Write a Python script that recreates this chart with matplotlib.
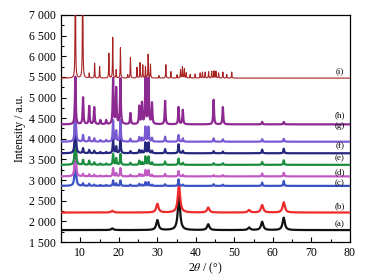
import numpy as np
import matplotlib
matplotlib.use("Agg")
import matplotlib.pyplot as plt
from matplotlib.ticker import MultipleLocator, FuncFormatter

# ---------------- data ----------------
labels = ["(a)", "(b)", "(c)", "(d)", "(e)", "(f)", "(g)", "(h)", "(i)"]
colors = ["#111111", "#ee2a2a", "#3a52c4", "#c25ac4", "#1c8c3e",
          "#26267f", "#7a5ad2", "#8c2a92", "#a82222"]
baselines = [1790, 2215, 2860, 3090, 3370, 3650, 3930, 4350, 5470]
label_y = [1935, 2370, 2935, 3180, 3530, 3810, 4300, 4580, 5630]

# spinel-type reflections (a), (b)
spinel_pos = [18.3, 30.0, 35.6, 43.2, 53.8, 57.2, 62.8]
a_h = [40, 240, 820, 140, 60, 200, 300]
b_h = [40, 210, 680, 120, 60, 180, 250]

# framework reflections (c)-(h)
mof_pos = [8.7, 10.7, 12.3, 13.6, 15.2, 16.7, 18.5, 19.3, 20.4, 23.0,
           25.3, 26.0, 26.9, 27.7, 28.6, 32.0, 35.5, 36.6, 44.6, 47.0,
           57.2, 62.8]
h_h = [1150, 650, 440, 410, 100, 100, 1100, 870, 1100, 270,
       430, 510, 1100, 1100, 510, 570, 420, 350, 600, 420,
       60, 60]
g_h = [1300, 160, 110, 80, 40, 40, 520, 260, 520, 70,
       110, 90, 360, 360, 90, 120, 160, 80, 80, 60,
       60, 70]
f_h = [1400, 120, 80, 60, 30, 30, 360, 160, 360, 50,
       80, 60, 260, 260, 60, 100, 220, 60, 50, 40,
       90, 110]
e_h = [1400, 120, 100, 60, 30, 30, 260, 160, 260, 50,
       100, 60, 200, 200, 60, 80, 150, 50, 40, 40,
       70, 110]
d_h = [1500, 60, 50, 40, 20, 20, 200, 80, 200, 40,
       60, 40, 150, 150, 40, 60, 130, 40, 30, 30,
       70, 90]
c_h = [1600, 60, 50, 30, 20, 20, 130, 60, 130, 30,
       50, 30, 90, 90, 30, 40, 160, 30, 40, 30,
       80, 120]

# simulated pattern (i)
sim_pos = [8.7, 10.6, 12.3, 13.7, 15.0, 17.4, 18.4, 19.3, 20.4, 22.3,
           23.0, 24.7, 25.5, 26.2, 26.9, 27.6, 28.2, 30.4, 32.2, 33.5,
           35.1, 36.0, 36.5, 37.0, 37.5, 38.5, 39.8, 41.1, 41.7, 42.4,
           43.3, 44.1, 44.7, 45.2, 45.9, 47.0, 48.0, 49.3]
sim_h = [4000, 4000, 120, 360, 280, 600, 990, 200, 740, 80,
         505, 260, 375, 320, 280, 580, 340, 60, 330, 160,
         80, 210, 280, 230, 130, 90, 100, 130, 150, 150,
         160, 170, 180, 170, 130, 150, 90, 150]

# ---------------- figure ----------------
plt.rcParams['font.family'] = ['Liberation Serif', 'DejaVu Serif']
plt.rcParams['mathtext.fontset'] = 'stix'

fig = plt.figure(figsize=(3.68, 2.76), dpi=100)
ax = fig.add_axes([0.166, 0.123, 0.785, 0.823])

x = np.linspace(5, 80, 3000)


def profile(pos, heights, width, base):
    y = np.full_like(x, float(base))
    for p, h in zip(pos, heights):
        y += h / (1.0 + ((x - p) / width) ** 2)
    return y


series = [
    (spinel_pos, a_h, 0.35),
    (spinel_pos, b_h, 0.35),
    (mof_pos, c_h, 0.12),
    (mof_pos, d_h, 0.12),
    (mof_pos, e_h, 0.12),
    (mof_pos, f_h, 0.12),
    (mof_pos, g_h, 0.12),
    (mof_pos, h_h, 0.12),
    (sim_pos, sim_h, 0.06),
]

for i, (pos, hh, w) in enumerate(series):
    y = profile(pos, hh, w, baselines[i])
    lw = 0.8 if i == 8 else 1.6
    ax.plot(x, y, color=colors[i], lw=lw, zorder=2 + i)
    ax.text(77.4, label_y[i], labels[i], fontsize=6.5, ha='center',
            va='center', zorder=20)

ax.set_xlim(5, 80)
ax.set_ylim(1500, 7000)
ax.xaxis.set_major_locator(MultipleLocator(10))
ax.xaxis.set_minor_locator(MultipleLocator(5))
ax.yaxis.set_major_locator(MultipleLocator(500))
ax.yaxis.set_minor_locator(MultipleLocator(250))
ax.yaxis.set_major_formatter(FuncFormatter(
    lambda v, p: f"{int(v):,}".replace(",", " ")))
ax.tick_params(which='both', direction='in', labelsize=8.5, width=0.8)
ax.tick_params(which='major', length=3.5)
ax.tick_params(which='minor', length=2)
for s in ax.spines.values():
    s.set_linewidth(0.9)

ax.set_xlabel(r"2$\theta$ / (°)", fontsize=8.5, labelpad=1)
ax.set_ylabel("Intensity / a.u.", fontsize=8.5, labelpad=2)

fig.savefig("out.png", dpi=100)
